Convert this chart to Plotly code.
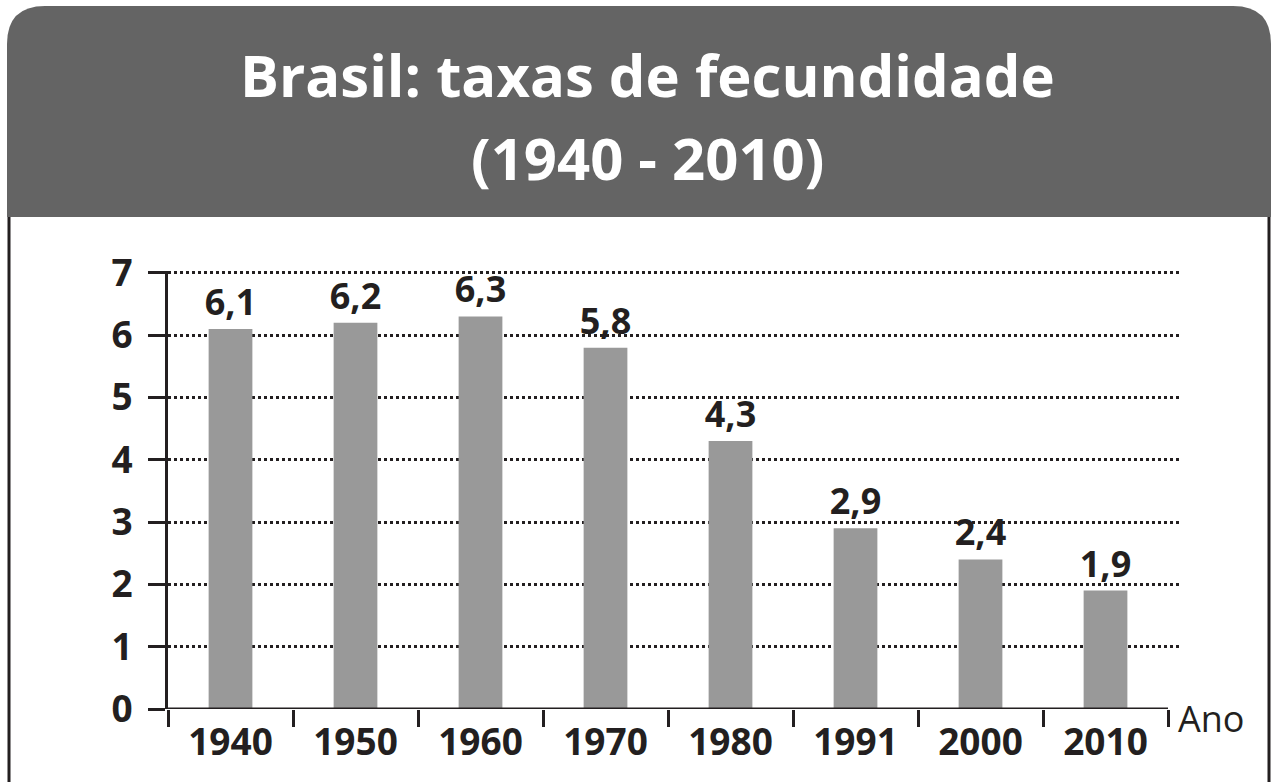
import plotly.graph_objects as go

years = ["1940", "1950", "1960", "1970", "1980", "1991", "2000", "2010"]
rates = [6.1, 6.2, 6.3, 5.8, 4.3, 2.9, 2.4, 1.9]
rate_labels = ["6,1", "6,2", "6,3", "5,8", "4,3", "2,9", "2,4", "1,9"]
y_ticks = [0, 1, 2, 3, 4, 5, 6, 7]
title_line1 = "Brasil: taxas de fecundidade"
title_line2 = "(1940 - 2010)"
x_axis_name = "Ano"

W, H = 1272, 782
Y_TOP = 7.03
UNIT = (709 - 273) / 7.0
ML, MR, MB = 168, 92, 73
MT = int(round(709 - Y_TOP * UNIT))
PW, PH = W - ML - MR, H - MT - MB
DARK = "#231f20"
FONT = "Open Sans"


def px(x):
    return (x - ML) / PW


def py(y):
    return (H - MB - y) / PH


fig = go.Figure()
fig.add_trace(go.Bar(
    x=years, y=rates, width=0.35,
    marker=dict(color="#999999", line=dict(width=0)),
    text=rate_labels, textposition="outside", constraintext="none",
    textfont=dict(family=FONT, size=36, color=DARK, weight="bold"),
    cliponaxis=False,
))

# header with rounded top corners
x0, x1, y0, y1, r = 7, 1271, 6, 217, 38
path = (f"M {px(x0)} {py(y1)} L {px(x0)} {py(y0 + r)} "
        f"Q {px(x0)} {py(y0)} {px(x0 + r)} {py(y0)} "
        f"L {px(x1 - r)} {py(y0)} "
        f"Q {px(x1)} {py(y0)} {px(x1)} {py(y0 + r)} "
        f"L {px(x1)} {py(y1)} Z")
shapes = [
    dict(type="path", path=path, xref="paper", yref="paper",
         fillcolor="#646464", line=dict(width=0), layer="below"),
    dict(type="line", xref="paper", yref="paper", x0=px(9), x1=px(9),
         y0=py(217), y1=py(H + 5), line=dict(color=DARK, width=3)),
    dict(type="line", xref="paper", yref="paper", x0=px(1269), x1=px(1269),
         y0=py(217), y1=py(H + 5), line=dict(color=DARK, width=3)),
    dict(type="line", xref="x", yref="y", x0=-0.5, x1=len(years) - 0.5,
         y0=0, y1=0, line=dict(color=DARK, width=3)),
]

annotations = [
    dict(text=f"<b>{title_line1}</b>", xref="paper", yref="paper",
         x=px(647), y=py(74), showarrow=False, xanchor="center", yanchor="middle",
         font=dict(family=FONT, size=58, color="white")),
    dict(text=f"<b>{title_line2}</b>", xref="paper", yref="paper",
         x=px(647), y=py(157), showarrow=False, xanchor="center", yanchor="middle",
         font=dict(family=FONT, size=58, color="white")),
    dict(text=x_axis_name, xref="paper", yref="paper",
         x=px(1176), y=py(718), showarrow=False, xanchor="left", yanchor="middle",
         font=dict(family=FONT, size=36, color=DARK)),
]

fig.update_layout(
    width=W, height=H,
    margin=dict(l=ML, r=MR, t=MT, b=MB, pad=0),
    paper_bgcolor="white", plot_bgcolor="white",
    showlegend=False, shapes=shapes, annotations=annotations,
)
fig.update_xaxes(
    type="category", range=[-0.5, -0.5 + PW / 125], showgrid=False,
    tickson="boundaries", ticks="outside", ticklen=17, tickwidth=3, tickcolor=DARK,
    showline=False, zeroline=False, ticklabelstandoff=8,
    tickfont=dict(family=FONT, size=37, color=DARK, weight="bold"),
)
fig.update_yaxes(
    range=[0, Y_TOP], tickvals=y_ticks, showline=True, linewidth=3, linecolor=DARK,
    ticks="outside", ticklen=17, tickwidth=3, tickcolor=DARK,
    showgrid=True, gridcolor=DARK, gridwidth=2.5, griddash="dot",
    zeroline=False, ticklabelstandoff=8,
    tickfont=dict(family=FONT, size=37, color=DARK, weight="bold"),
)

fig.write_html("out.html", config={"displayModeBar": False},
               post_script="document.body.style.margin='0';")
